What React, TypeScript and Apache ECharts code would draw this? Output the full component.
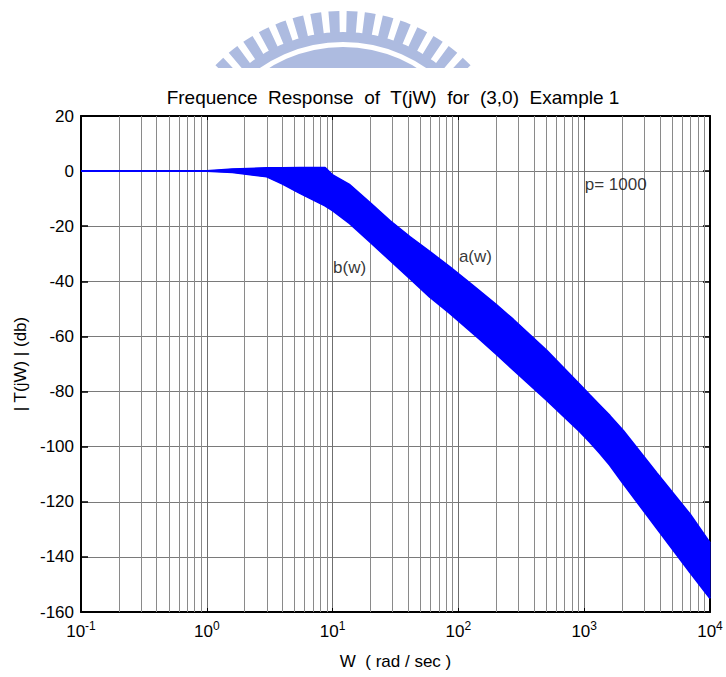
import React, { useEffect, useRef } from "react";
import * as echarts from "echarts";

// Frequency samples (rad/sec) shared by both band edges
const W = [0.1, 1, 1.6, 3, 4, 5.5, 8.7, 10, 13.7, 19.8, 28.5, 41, 59, 85.5, 123, 148, 201, 272, 500, 923, 1110, 1330, 1600, 2040, 3760, 6920, 10000];
// upper edge a(w) in dB
const A_UPPER = [0, 0, 0.7, 1.1, 1.15, 1.2, 1.2, -1.5, -5, -11.5, -18, -23.8, -29.2, -34.8, -40.6, -43.6, -48.6, -53.8, -65, -77.5, -81.3, -85, -88.8, -94.2, -109.5, -124.5, -135];
// lower edge b(w) in dB
const B_LOWER = [0, 0, -0.4, -2, -4.6, -8, -12.5, -14.3, -19, -25.6, -32.3, -38.9, -45.6, -51.6, -57.8, -61, -66.5, -72, -83, -94.5, -98.3, -102.3, -106.7, -113.3, -129.5, -145.5, -155];

const LABEL_TEXT = ["p= 1000", "a(w)", "b(w)"];
const LABEL_W = [1000, 100, 10];
const LABEL_DB = [-5, -31, -35];

const DECADES = [0.1, 1, 10, 100, 1000];
const MINOR_MULT = [2, 3, 4, 5, 6, 7, 8, 9];

const TITLE = "Frequence  Response  of  T(jW)  for  (3,0)  Example 1";
const X_NAME = "W  ( rad / sec )";
const Y_NAME = "| T(jW) | (db)";

const FONT = "'Liberation Sans', Arial, Helvetica, sans-serif";
const BLUE = "#0000ff";

export default function App() {
  const ref = useRef<HTMLDivElement>(null);
  useEffect(() => {
    const chart = echarts.init(ref.current!, null, { renderer: "svg" });
    const minorLines: any[] = [];
    DECADES.forEach((d) => MINOR_MULT.forEach((m) => minorLines.push({ xAxis: d * m })));

    // watermark logo
    const cx = 343, cy = 188;
    const deg = Math.PI / 180;
    const a0 = -137.3, a1 = -42.7;
    const logoColor = "#adbbe0";
    const logo: any[] = [];
    const n = 16;
    const pitch = (a1 - a0) / n;
    for (let i = 0; i < n; i++) {
      const s = a0 + i * pitch + pitch * 0.2;
      logo.push({
        type: "sector",
        z: 0,
        silent: true,
        shape: { cx, cy, r0: 155, r: 177, startAngle: s * deg, endAngle: (s + pitch * 0.6) * deg, clockwise: true },
        style: { fill: logoColor },
      });
    }
    logo.push({
      type: "sector", z: 0, silent: true,
      shape: { cx, cy, r0: 146, r: 156, startAngle: a0 * deg, endAngle: a1 * deg, clockwise: true },
      style: { fill: logoColor },
    });
    logo.push({
      type: "sector", z: 0, silent: true,
      shape: { cx, cy, r0: 118, r: 141, startAngle: a0 * deg, endAngle: a1 * deg, clockwise: true },
      style: { fill: logoColor },
    });
    logo.push({
      type: "rect", z: 1, silent: true,
      shape: { x: 130, y: 68, width: 440, height: 45 },
      style: { fill: "#ffffff" },
    });
    logo.push({
      type: "text", z: 2, x: 393, y: 97,
      style: { text: TITLE, fontSize: 19, fontFamily: FONT, fill: "#000", textAlign: "center", textVerticalAlign: "middle" },
    });

    const xCommon = {
      type: "log",
      logBase: 10,
      min: 0.1,
      max: 10000,
    };

    chart.setOption({
      animation: false,
      backgroundColor: "#ffffff",
      grid: { left: 81, right: 16, top: 116, bottom: 65, containLabel: false },
      graphic: logo,
      xAxis: [
        {
          ...xCommon,
          position: "bottom",
          axisLine: { show: true, onZero: false, lineStyle: { color: "#000", width: 2 } },
          axisTick: { show: true, inside: true, length: 4, lineStyle: { color: "#000" } },
          axisLabel: {
            margin: 8,
            formatter: (v: number) => `{b|10}{s|${Math.round(Math.log10(v))}}`,
            rich: {
              b: { fontSize: 17, fontFamily: FONT, color: "#000", lineHeight: 20, verticalAlign: "bottom" },
              s: { fontSize: 12, fontFamily: FONT, color: "#000", lineHeight: 14, verticalAlign: "top", padding: [0, 0, 13, 0] },
            },
          },
          splitLine: { show: true, lineStyle: { color: "#6f6f6f", width: 1 } },
          name: X_NAME,
          nameLocation: "middle",
          nameGap: 41,
          nameTextStyle: { fontSize: 17, fontFamily: FONT, color: "#000" },
        },
        {
          ...xCommon,
          position: "top",
          axisLine: { show: true, onZero: false, lineStyle: { color: "#000", width: 2 } },
          axisTick: { show: true, inside: true, length: 4, lineStyle: { color: "#000" } },
          axisLabel: { show: false },
          splitLine: { show: false },
        },
      ],
      yAxis: [
        {
          type: "value",
          min: -160,
          max: 20,
          interval: 20,
          position: "left",
          axisLine: { show: true, onZero: false, lineStyle: { color: "#000", width: 2 } },
          axisTick: { show: true, inside: true, length: 7, lineStyle: { color: "#000", width: 1.5 } },
          axisLabel: { fontSize: 17, fontFamily: FONT, color: "#000", margin: 7 },
          splitLine: { show: true, lineStyle: { color: "#7a7a7a", width: 1 } },
          name: Y_NAME,
          nameLocation: "middle",
          nameGap: 44,
          nameTextStyle: { fontSize: 17, fontFamily: FONT, color: "#000" },
        },
        {
          type: "value",
          min: -160,
          max: 20,
          interval: 20,
          position: "right",
          axisLine: { show: true, onZero: false, lineStyle: { color: "#000", width: 2 } },
          axisTick: { show: true, inside: true, length: 7, lineStyle: { color: "#000", width: 1.5 } },
          axisLabel: { show: false },
          splitLine: { show: false },
        },
      ],
      series: [
        {
          name: "minor-grid",
          type: "line",
          xAxisIndex: 0,
          yAxisIndex: 0,
          data: [],
          z: 1,
          silent: true,
          markLine: {
            z: 1,
            silent: true,
            symbol: ["none", "none"],
            label: { show: false },
            lineStyle: { color: "#8a8a8a", width: 1, type: "solid" },
            data: minorLines,
          },
        },
        {
          name: "band",
          type: "custom",
          xAxisIndex: 0,
          yAxisIndex: 0,
          z: 3,
          silent: true,
          data: [[W[0], A_UPPER[0]]],
          encode: { x: 0, y: 1 },
          renderItem: (params: any, api: any) => {
            if (params.dataIndex !== 0) return null;
            const upper = W.map((w, i) => api.coord([w, A_UPPER[i]]));
            const lower = W.map((w, i) => api.coord([w, B_LOWER[i]])).reverse();
            return {
              type: "polygon",
              shape: { points: upper.concat(lower) },
              style: { fill: BLUE, stroke: BLUE, lineWidth: 1 },
            };
          },
        },
        {
          name: "a(w)",
          type: "line",
          xAxisIndex: 0,
          yAxisIndex: 0,
          z: 4,
          symbol: "none",
          lineStyle: { color: BLUE, width: 2 },
          data: W.map((w, i) => [w, A_UPPER[i]]),
        },
        {
          name: "b(w)",
          type: "line",
          xAxisIndex: 0,
          yAxisIndex: 0,
          z: 4,
          symbol: "none",
          lineStyle: { color: BLUE, width: 2 },
          data: W.map((w, i) => [w, B_LOWER[i]]),
        },
        {
          name: "labels",
          type: "scatter",
          xAxisIndex: 0,
          yAxisIndex: 0,
          z: 5,
          symbolSize: 1,
          itemStyle: { color: "rgba(0,0,0,0)" },
          label: {
            show: true,
            position: "right",
            distance: 0,
            fontSize: 17,
            fontFamily: FONT,
            color: "#000",
          },
          data: LABEL_W.map((w, i) => ({
            value: [w, LABEL_DB[i]],
            label: { formatter: LABEL_TEXT[i] },
          })),
        },
      ],
    });
    return () => chart.dispose();
  }, []);
  return <div ref={ref} style={{ position: "fixed", left: 0, top: 0, width: 726, height: 677 }} />;
}
